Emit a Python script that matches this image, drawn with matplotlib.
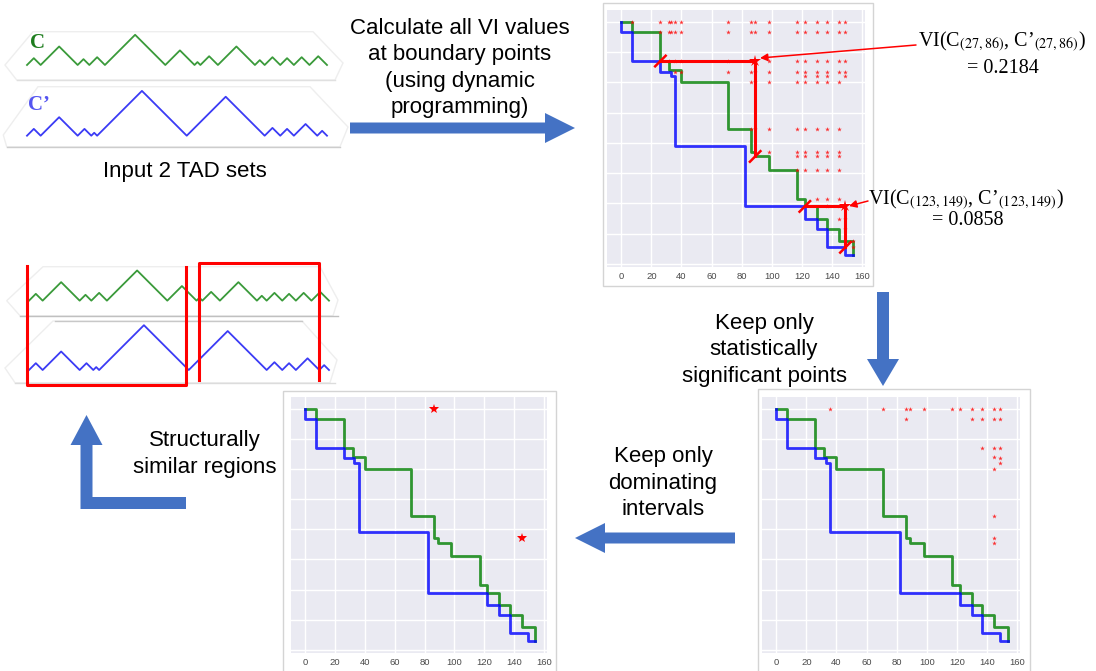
import matplotlib
matplotlib.use("Agg")
import matplotlib.pyplot as plt
from matplotlib.patches import FancyArrow, Rectangle, Polygon

W, H = 1096, 671
BLUE_ARROW = "#4472C4"

# TAD boundaries of the two sets
c_bounds = [0, 7, 26, 32, 40, 71, 86, 89, 98, 117, 122, 130, 137, 145, 154]
cp_bounds = [0, 7, 26, 33, 36, 82, 122, 130, 137, 149, 154]

# VI values computed at boundary points: start boundary -> end boundaries
all_rows = [0, 7, 26, 33, 36, 40, 71, 86, 89, 98, 117, 122, 130, 137, 145, 149]
all_cols = [
    [7, 26, 32, 33, 36, 40, 71, 86, 89, 98, 117, 122, 130, 137, 145, 149],
    [26, 32, 33, 36, 40, 71, 86, 89, 98, 117, 122, 130, 137, 145, 149],
    [32, 36, 40, 71, 86, 98, 117, 122, 130, 137, 145, 149],
    [36, 40, 71, 86, 89, 98, 117, 122, 130, 137, 145, 149],
    [122, 130, 137, 149],
    [86, 89, 98, 117, 122, 130, 137, 145],
    [86, 89, 98, 117, 122, 130, 137, 145],
    [98, 117, 122, 130, 137, 145],
    [117, 122, 130, 137, 145],
    [117, 122, 130, 137, 145],
    [130, 137, 145],
    [137, 145],
    [145, 149],
    [149],
    [154],
    [154],
]

# statistically significant points
sig_rows = [0, 7, 26, 32, 33, 36, 40, 71, 86, 89]
sig_cols = [
    [36, 71, 86, 89, 98, 117, 122, 130, 137, 145, 149],
    [86, 130, 137, 145, 149],
    [137, 145, 149],
    [145],
    [149],
    [149],
    [145],
    [145],
    [145],
    [145],
]

# dominating intervals (end, start)
dom_x = [86, 145]
dom_y = [0, 86]

# highlighted intervals on the VI plot
highlight = [(26, 89), (122, 149)]
vi_text = ["VI(C$_{(27,86)}$, C\u2019$_{(27,86)}$)", "VI(C$_{(123,149)}$, C\u2019$_{(123,149)}$)"]
vi_value = ["= 0.2184", "= 0.0858"]

# structurally similar regions (in boundary units)
similar_regions = [(-1.2, 80.6), (87.4, 149)]

plt.rcParams["font.family"] = ["Liberation Sans", "DejaVu Sans"]
plt.rcParams["mathtext.fontset"] = "stix"

fig = plt.figure(figsize=(W / 100, H / 100), dpi=100)


def upper_steps(b):
    xs, ys = [b[0]], [b[0]]
    for i in range(len(b) - 1):
        xs += [b[i + 1], b[i + 1]]
        ys += [b[i], b[i + 1]]
    return xs, ys


def lower_steps(b):
    xs, ys = [b[0]], [b[0]]
    for i in range(len(b) - 1):
        xs += [b[i], b[i + 1]]
        ys += [b[i + 1], b[i + 1]]
    return xs, ys


def chain(b, y0):
    xs, ys = [], []
    for i in range(len(b) - 1):
        xs += [b[i], (b[i] + b[i + 1]) / 2]
        ys += [y0, y0 + (b[i + 1] - b[i]) / 2]
    xs.append(b[-1])
    ys.append(y0)
    return xs, ys


def px_axes(left, top, right, bottom):
    return fig.add_axes([left / W, 1 - bottom / H, (right - left) / W, (bottom - top) / H])


def matrix_axes(left, top, right, bottom):
    ax = px_axes(left, top, right, bottom)
    ax.set_facecolor("#EAEAF2")
    for s in ax.spines.values():
        s.set_visible(False)
    ax.set_xlim(-9.5, 162)
    ax.set_ylim(162, -7.7)
    ax.set_xticks(range(0, 161, 20))
    ax.set_yticks(range(0, 161, 20))
    ax.set_yticklabels([])
    ax.grid(True, color="white", lw=1)
    ax.set_axisbelow(True)
    ax.tick_params(length=0, labelsize=6.8, labelcolor="#4a4a4a", pad=3.5)
    ax.plot(*upper_steps(c_bounds), color="green", lw=2, alpha=0.8)
    ax.plot(*lower_steps(cp_bounds), color="blue", lw=2, alpha=0.8)
    return ax


def chain_axes(x0, base, ppu=1.948, xlim=(-15, 165), ylim=(-10, 60)):
    left = x0 + xlim[0] * ppu
    right = x0 + xlim[1] * ppu
    top = base - ylim[1] * ppu
    bottom = base - ylim[0] * ppu
    ax = px_axes(left, top, right, bottom)
    ax.set_xlim(*xlim)
    ax.set_ylim(*ylim)
    ax.axis("off")
    return ax


# ---- top right: all VI values
ax1 = matrix_axes(607, 10, 865, 267)
for r, cols in zip(all_rows, all_cols):
    ax1.plot(cols, [r] * len(cols), "*", color="red", ms=3.5, mew=0, alpha=0.8)
for a, b in highlight:
    ax1.plot([a, b], [a, a], color="red", lw=2.2)
    ax1.plot([b, b], [a, b], color="red", lw=2.2)
    ax1.plot(b, a, "*", color="red", ms=9, mew=0)
    for d in (a, b):
        ax1.plot([d - 3.5, d + 3.5], [d + 3.5, d - 3.5], color="red", lw=1.8)

# ---- bottom right: significant points
ax2 = matrix_axes(762, 397, 1020, 653)
for r, cols in zip(sig_rows, sig_cols):
    ax2.plot(cols, [r] * len(cols), "*", color="red", ms=3.5, mew=0, alpha=0.8)

# ---- bottom left: dominating intervals
ax3 = matrix_axes(291, 397, 547, 653)
ax3.plot(dom_x, dom_y, "*", color="red", ms=7, mew=0)

# ---- TAD chains
g_col, b_col = "#3a9a3a", "#3b3bf5"
axc = chain_axes(27, 135.7)
axc.plot(*chain(c_bounds, 36.3), color=g_col, lw=1.3)
axc.plot(*chain(cp_bounds, 0), color=b_col, lw=1.3)

axs = chain_axes(29, 370)
axs.plot(*chain(c_bounds, 35.6), color=g_col, lw=1.3)
axs.plot(*chain(cp_bounds, 0), color=b_col, lw=1.3)
tops = [53.4, 54.8]
bots = [-7.7, -5.1]
r0, r1 = similar_regions[0]
axs.plot([r0, r0, r1, r1], [tops[0], bots[0], bots[0], tops[0] - 0.7], color="red", lw=2.2)
r0, r1 = similar_regions[1]
axs.plot([r0, r0, r1, r1], [bots[1], tops[1], tops[1], bots[1]], color="red", lw=2.2)

# ---- overlay for arrows, labels and frames
ov = fig.add_axes([0, 0, 1, 1])
ov.set_xlim(0, W)
ov.set_ylim(H, 0)
ov.axis("off")
ov.patch.set_alpha(0)
ov.set_zorder(-1)

faint = "#eeeeee"
for pts in ([(33, 31.7), (5, 65), (16.7, 80), (335, 80), (343, 63), (313, 31.7)],
            [(38, 86.7), (3.3, 135), (6.7, 146.7), (340, 146.7), (348, 127), (310, 86.7)],
            [(43, 266.7), (6.7, 300.7), (20, 315.7), (333, 315.7), (338, 300), (320, 266.7)],
            [(53, 321), (5, 368), (15, 382.7), (330, 382.7), (337, 360), (302, 321)]):
    ov.add_patch(Polygon(pts, closed=True, fill=False, ec=faint, lw=1))
ov.plot([16.7, 335], [80, 80], color="#e0e0e0", lw=1)
ov.plot([6.7, 340], [146.7, 146.7], color="#cdcdcd", lw=1)
ov.plot([20, 338], [315.7, 315.7], color="#c0c0c0", lw=1)
ov.plot([55, 302], [321, 321], color="#c8c8c8", lw=1)
ov.plot([15, 335], [382.7, 382.7], color="#dcdcdc", lw=1)

for x0, y0, x1, y1 in [(603, 3, 873, 286), (283, 391, 556, 680), (758, 389, 1030, 680)]:
    ov.add_patch(Rectangle((x0, y0), x1 - x0, y1 - y0, fill=False, ec="#d4d4d4", lw=1))

ov2 = fig.add_axes([0, 0, 1, 1])
ov2.set_xlim(0, W)
ov2.set_ylim(H, 0)
ov2.axis("off")
ov2.patch.set_alpha(0)

ov2.add_patch(FancyArrow(350, 128, 225, 0, width=11, head_width=30, head_length=30,
                         length_includes_head=True, color=BLUE_ARROW, lw=0))
ov2.add_patch(FancyArrow(883, 292, 0, 94, width=12, head_width=32, head_length=27,
                         length_includes_head=True, color=BLUE_ARROW, lw=0))
ov2.add_patch(FancyArrow(735, 538, -160, 0, width=11, head_width=30, head_length=30,
                         length_includes_head=True, color=BLUE_ARROW, lw=0))
ov2.add_patch(Rectangle((80.5, 497), 105, 12, color=BLUE_ARROW, lw=0))
ov2.add_patch(FancyArrow(86.5, 509, 0, -94, width=12, head_width=32, head_length=30,
                         length_includes_head=True, color=BLUE_ARROW, lw=0))

ov2.annotate("", xy=(760, 58), xytext=(916, 45),
             arrowprops=dict(arrowstyle="-|>", color="red", lw=1.1, mutation_scale=11,
                             shrinkA=0, shrinkB=0))
ov2.annotate("", xy=(849, 206), xytext=(868, 201),
             arrowprops=dict(arrowstyle="-|>", color="red", lw=1.1, mutation_scale=11,
                             shrinkA=0, shrinkB=0))

fs = 16
ls = 1.34
ov2.text(460, 68, "Calculate all VI values\nat boundary points\n(using dynamic\nprogramming)",
         ha="center", va="center", fontsize=fs, linespacing=ls)
ov2.text(185, 172, "Input 2 TAD sets", ha="center", va="center", fontsize=fs)
ov2.text(764, 350, "Keep only\nstatistically\nsignificant points", ha="center", va="center",
         fontsize=fs, linespacing=ls)
ov2.text(663, 483, "Keep only\ndominating\nintervals", ha="center", va="center",
         fontsize=fs, linespacing=ls)
ov2.text(205, 454, "Structurally\nsimilar regions", ha="center", va="center",
         fontsize=fs, linespacing=ls)

serif = ["Liberation Serif", "DejaVu Serif"]
ov2.text(30, 48, "C", family=serif, fontweight="bold", fontsize=15, color="#1e7d1e")
ov2.text(28, 110, "C\u2019", family=serif, fontweight="bold", fontsize=15, color="#5555f0")

ov2.text(918, 46.7, vi_text[0], family=serif, fontsize=14.5, ha="left", va="baseline")
ov2.text(1003, 73.3, vi_value[0], family=serif, fontsize=14.5, ha="center", va="baseline")
ov2.text(868, 205, vi_text[1], family=serif, fontsize=14.5, ha="left", va="baseline")
ov2.text(968, 225, vi_value[1], family=serif, fontsize=14.5, ha="center", va="baseline")

fig.savefig("out.png", dpi=100)
